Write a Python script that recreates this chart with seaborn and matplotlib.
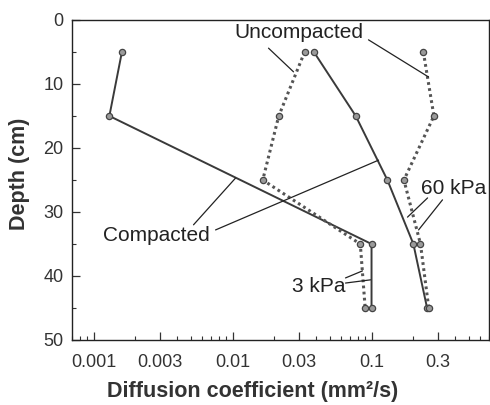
import matplotlib
matplotlib.use("Agg")
import matplotlib.pyplot as plt
import matplotlib.ticker as mticker
import seaborn as sns
import pandas as pd

# ---- data ----
depth4 = [5, 15, 35, 45]
depth5 = [5, 15, 25, 35, 45]
comp_3kpa = [0.0016, 0.0013, 0.100, 0.100]
uncomp_3kpa = [0.033, 0.0215, 0.0165, 0.083, 0.090]
comp_60kpa = [0.0385, 0.077, 0.130, 0.200, 0.251]
uncomp_60kpa = [0.236, 0.281, 0.171, 0.225, 0.258]
xtick_vals = [0.001, 0.003, 0.01, 0.03, 0.1, 0.3]
xtick_labels = ["0.001", "0.003", "0.01", "0.03", "0.1", "0.3"]
ytick_vals = [0, 10, 20, 30, 40, 50]

sns.set_theme(style="white")
plt.rcParams['font.family'] = ['Liberation Sans', 'DejaVu Sans']

fig = plt.figure(figsize=(4.9, 4.05), dpi=100)
ax = fig.add_axes([72/490, 1-340/405, 417/490, 320/405])

series = [
    (comp_3kpa, depth4, '-', '#3a3a3a', 1.4),
    (uncomp_3kpa, depth5, (0, (0.9, 1.1)), '#555555', 2.2),
    (comp_60kpa, depth5, '-', '#3a3a3a', 1.4),
    (uncomp_60kpa, depth5, (0, (0.9, 1.1)), '#555555', 2.2),
]
for xs, ys, ls, col, lw in series:
    df = pd.DataFrame({"D": xs, "depth": ys})
    sns.lineplot(data=df, x="D", y="depth", sort=False, estimator=None,
                 ax=ax, color=col, linewidth=lw, linestyle=ls,
                 marker='o', markersize=4.5, markerfacecolor='#9a9a9a',
                 markeredgecolor='#444444', markeredgewidth=0.9)

ax.set_xscale('log')
ax.set_xlim(0.0007, 0.7)
ax.set_ylim(50, 0)

ax.xaxis.set_major_locator(mticker.FixedLocator(xtick_vals))
ax.xaxis.set_major_formatter(mticker.FixedFormatter(xtick_labels))
ax.xaxis.set_minor_locator(mticker.LogLocator(base=10, subs=[2, 4, 5, 6, 7, 8, 9], numticks=20))
ax.xaxis.set_minor_formatter(mticker.NullFormatter())
ax.yaxis.set_major_locator(mticker.FixedLocator(ytick_vals))
ax.yaxis.set_minor_locator(mticker.MultipleLocator(5))

ax.tick_params(axis='both', which='major', direction='in', length=6, width=0.9,
               color='#333333', labelsize=13, labelcolor='#333333')
ax.tick_params(axis='both', which='minor', direction='in', length=3, width=0.8,
               color='#333333')
ax.tick_params(axis='x', which='major', pad=10)
ax.tick_params(axis='y', which='major', pad=6)
ax.tick_params(left=True, bottom=True, top=False, right=False)
ax.tick_params(which='minor', left=True, bottom=True, top=False, right=False)

for sp in ax.spines.values():
    sp.set_visible(True)
    sp.set_color('#222222')
    sp.set_linewidth(1.0)

ax.set_xlabel("Diffusion coefficient (mm²/s)", fontsize=15.5, fontweight='bold',
              color='#333333')
ax.xaxis.set_label_coords(0.432, -0.128)
ax.set_ylabel("Depth (cm)", fontsize=15.5, fontweight='bold', color='#333333')
ax.yaxis.set_label_coords(-0.10, 0.519)

# ---- annotations ----
tkw = dict(fontsize=15, color='#222222', ha='center', va='center')
ax.text(0.0298, 2.0, "Uncompacted", **tkw)
ax.text(0.00284, 33.6, "Compacted", **tkw)
ax.text(0.389, 26.4, "60 kPa", **tkw)
ax.text(0.0416, 41.6, "3 kPa", **tkw)

leaders = [
    ((0.01815, 4.4), (0.02747, 8.1)),
    ((0.0951, 3.1), (0.257, 8.9)),
    ((0.00524, 32.0), (0.01051, 24.7)),
    ((0.00755, 32.8), (0.1123, 21.9)),
    ((0.253, 27.8), (0.1815, 30.8)),
    ((0.324, 28.1), (0.218, 32.8)),
    ((0.065, 40.3), (0.0861, 39.2)),
    ((0.065, 41.1), (0.0984, 40.6)),
]
for start, end in leaders:
    ax.annotate("", xy=end, xytext=start,
                arrowprops=dict(arrowstyle='-', color='#222222', lw=0.9,
                                shrinkA=0, shrinkB=0))

fig.savefig("out.png", dpi=100)
